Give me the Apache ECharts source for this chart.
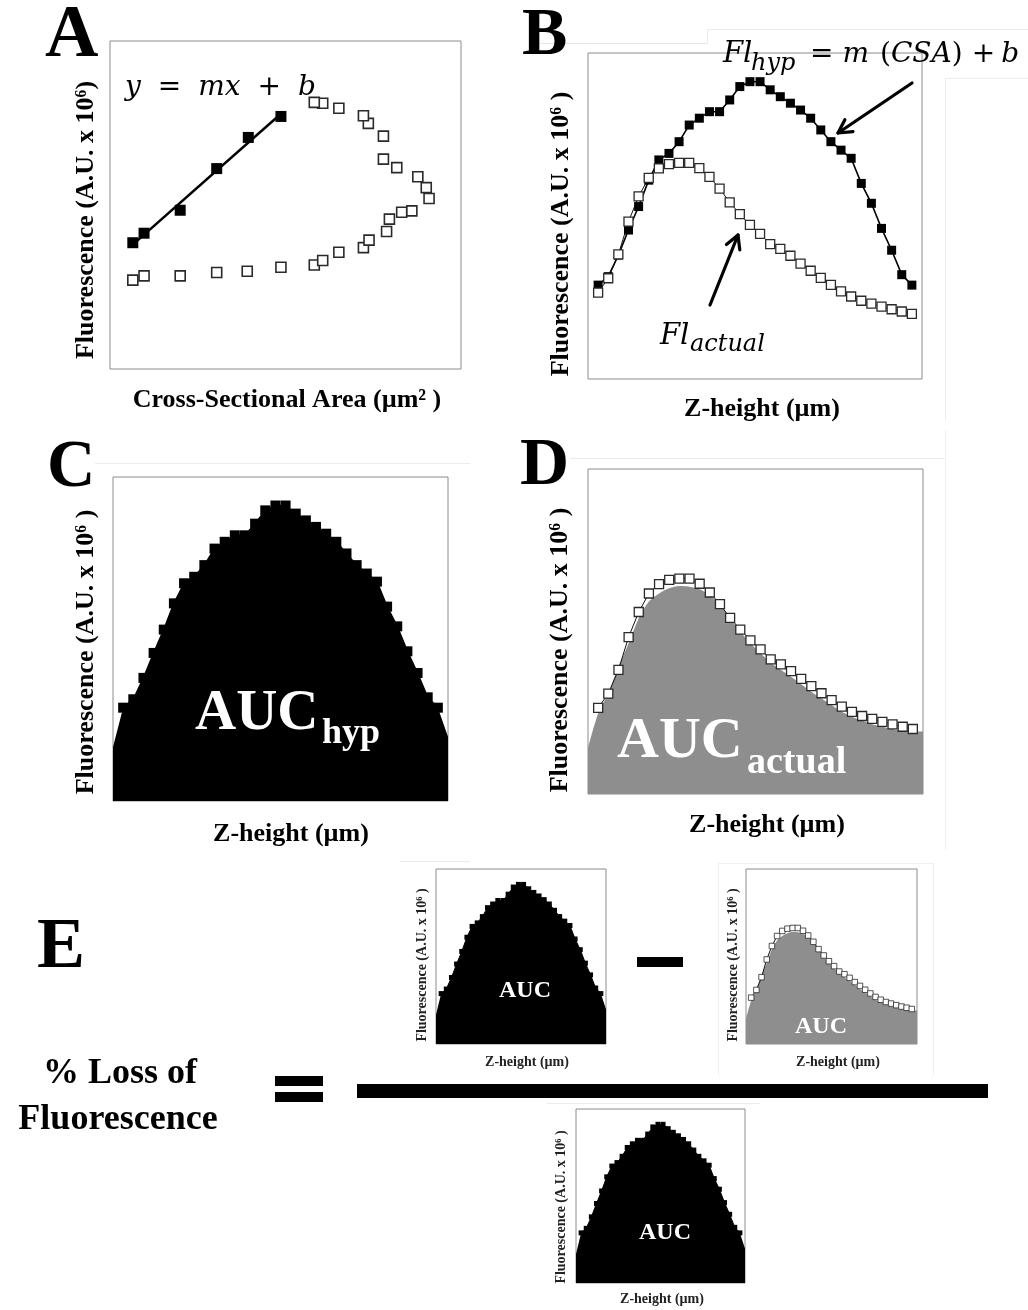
<!DOCTYPE html>
<html>
<head>
<meta charset="utf-8">
<script src="https://cdn.jsdelivr.net/npm/echarts@6/dist/echarts.min.js"></script>
<style>
  html, body { margin: 0; padding: 0; background: #fff; }
  #chart { width: 1028px; height: 1310px; }
</style>
</head>
<body>
<div id="chart"></div>
<script>
// ---- Panel A: fluorescence vs cross-sectional area ----
const aHypCSA = [6.5, 9.7, 20.0, 30.4, 39.4, 48.7];
const aHypFl  = [38.5, 41.4, 48.4, 61.1, 70.6, 77.0];
const aActCSA = [6.5, 9.7, 20.0, 30.4, 39.1, 48.7, 58.2, 60.6, 65.2, 72.2, 73.8, 78.8, 79.6,
                 83.1, 86.0, 90.9, 90.1, 87.7, 81.7, 77.9, 77.9, 73.6, 72.2, 65.2, 60.6, 58.2];
const aActFl  = [27.1, 28.4, 28.4, 29.4, 29.8, 31.0, 31.7, 33.1, 35.6, 37.0, 39.3, 41.9, 45.7,
                 47.8, 48.2, 52.0, 55.3, 58.6, 61.4, 64.0, 71.0, 74.9, 77.2, 79.5, 81.0, 81.3];

// ---- Z-stack profiles (slice number -> fluorescence) ----
const zSlice = [1, 2, 3, 4, 5, 6, 7, 8, 9, 10, 11, 12, 13, 14, 15, 16,
                17, 18, 19, 20, 21, 22, 23, 24, 25, 26, 27, 28, 29, 30, 31, 32];
const flHyp = [28.8, 31.4, 38.0, 45.7, 52.9, 61.0, 67.2, 69.2, 72.8, 77.9, 80.0, 82.0, 82.0, 85.6, 89.7, 91.2,
               91.2, 88.7, 86.6, 84.6, 82.5, 80.0, 76.4, 72.8, 70.2, 67.7, 60.0, 53.9, 46.2, 39.5, 32.0, 28.8];
const flActual = [26.5, 30.9, 38.2, 48.3, 56.0, 61.7, 64.6, 65.9, 66.3, 66.3, 64.7, 62.0, 58.4, 54.2, 50.6, 47.3,
                  44.5, 41.4, 39.9, 37.8, 35.4, 33.2, 31.0, 28.9, 26.9, 25.3, 24.0, 23.1, 22.2, 21.4, 20.7, 20.0];
// shaded area-under-curve profile for the measured signal, and the fill levels at the plot edges
const actualShade = [24.8, 31.0, 39.2, 46.4, 54.1, 59.2, 61.7, 63.3, 64.0, 63.8, 63.0, 61.2, 58.2, 54.1, 49.9, 46.4,
                     43.3, 40.4, 38.2, 36.1, 33.8, 31.5, 29.4, 27.4, 25.3, 23.8, 22.6, 21.5, 20.7, 20.0, 19.5, 19.2];
const shadeEdge = [14.2, 19.2];
const hypFillEdge = [16.7, 19.8];

// ---- helpers ----
const SERIF = '"Liberation Serif", "Times New Roman", serif';
const MATH = '"DejaVu Serif", serif';
const GRAY = '#8e8e8e';

const pts = vals => zSlice.map((z, i) => [z, vals[i]]);
const withEdges = (vals, edge) => [[0, edge[0]], ...pts(vals), [33, edge[1]]];

// least-squares line through the panel A calibration points
function fitLine(xs, ys) {
  const n = xs.length;
  const mx = xs.reduce((a, b) => a + b, 0) / n;
  const my = ys.reduce((a, b) => a + b, 0) / n;
  let sxx = 0, sxy = 0;
  xs.forEach((x, i) => { sxx += (x - mx) * (x - mx); sxy += (x - mx) * (ys[i] - my); });
  const m = sxy / sxx, b = my - m * mx;
  const x0 = Math.min(...xs), x1 = Math.max(...xs);
  return [[x0, m * x0 + b], [x1, m * x1 + b]];
}

// text placed by its baseline
function txt(x, base, text, size, o = {}) {
  const family = o.family || SERIF;
  const k = family === MATH ? 0.32 : 0.29;
  return {
    type: 'text', x: x, y: base - k * size, silent: true, z: 100,
    style: {
      text: text, fontFamily: family, fontSize: size,
      fontWeight: o.weight || 'normal', fontStyle: o.style || 'normal',
      fill: o.color || '#000', align: o.align || 'left', verticalAlign: 'middle',
      rich: o.rich
    }
  };
}
function vtxt(cx, cy, text, size, color) {
  return {
    type: 'text', x: cx, y: cy, rotation: Math.PI / 2, silent: true, z: 100,
    style: { text: text, fontFamily: SERIF, fontSize: size, fontWeight: 'bold',
             fill: color || '#000', align: 'center', verticalAlign: 'middle' }
  };
}
function bar(x, y, w, h) {
  return { type: 'rect', silent: true, z: 100, shape: { x: x, y: y, width: w, height: h }, style: { fill: '#000' } };
}
function seg(x1, y1, x2, y2, color, w) {
  return { type: 'line', silent: true, z: 1, shape: { x1: x1, y1: y1, x2: x2, y2: y2 },
           style: { stroke: color, lineWidth: w } };
}
function arrow(x1, y1, x2, y2) {
  const ang = Math.atan2(y2 - y1, x2 - x1), L = 15, s = 0.5;
  const h1 = [x2 - L * Math.cos(ang - s), y2 - L * Math.sin(ang - s)];
  const h2 = [x2 - L * Math.cos(ang + s), y2 - L * Math.sin(ang + s)];
  return [
    { type: 'line', silent: true, z: 100, shape: { x1: x1, y1: y1, x2: x2, y2: y2 }, style: { stroke: '#000', lineWidth: 3.2, lineCap: 'round' } },
    { type: 'polyline', silent: true, z: 100, shape: { points: [h1, [x2, y2], h2] }, style: { stroke: '#000', lineWidth: 3.2, fill: null, lineCap: 'round', lineJoin: 'round' } }
  ];
}

// ---- plot boxes ----
const grids = [
  { left: 110, top: 41, width: 351, height: 328 },   // A
  { left: 588, top: 53, width: 334, height: 326 },   // B
  { left: 113, top: 477, width: 335, height: 324 },  // C
  { left: 588, top: 469, width: 335, height: 325 },  // D
  { left: 436, top: 869, width: 170, height: 175 },  // E numerator, hypothetical
  { left: 746, top: 869, width: 171, height: 175 },  // E numerator, actual
  { left: 576, top: 1109, width: 169, height: 174 }  // E denominator
].map(g => Object.assign({ show: true, borderColor: '#8c8c8c', borderWidth: 1, backgroundColor: 'transparent' }, g));

const xAxis = grids.map((g, i) => ({ gridIndex: i, type: 'value', min: 0, max: i === 0 ? 100 : 33, show: false }));
const yAxis = grids.map((g, i) => ({ gridIndex: i, type: 'value', min: 0, max: 100, show: false }));

const openSq = (bw) => ({ color: '#fff', borderColor: '#2a2a2a', borderWidth: bw, opacity: 1 });

function hypCurve(gi, size, lw) {
  return { type: 'line', xAxisIndex: gi, yAxisIndex: gi, data: pts(flHyp), symbol: 'rect', symbolSize: size,
           itemStyle: { color: '#000', opacity: 1 }, lineStyle: { color: '#000', width: lw } };
}
function actCurve(gi, size, bw) {
  return { type: 'line', xAxisIndex: gi, yAxisIndex: gi, data: pts(flActual), symbol: 'rect', symbolSize: size,
           itemStyle: openSq(bw), lineStyle: { color: '#111', width: 1 } };
}
function hypFill(gi) {
  return { type: 'line', xAxisIndex: gi, yAxisIndex: gi, data: withEdges(flHyp, hypFillEdge), showSymbol: false,
           lineStyle: { width: 0, opacity: 0 }, areaStyle: { color: '#000', opacity: 1 } };
}
function actFill(gi) {
  return { type: 'line', xAxisIndex: gi, yAxisIndex: gi, data: withEdges(actualShade, shadeEdge), smooth: 0.3,
           showSymbol: false, lineStyle: { width: 0, opacity: 0 }, areaStyle: { color: GRAY, opacity: 1 } };
}

const series = [
  // A
  { type: 'scatter', xAxisIndex: 0, yAxisIndex: 0, data: aActCSA.map((x, i) => [x, aActFl[i]]),
    symbol: 'rect', symbolSize: 10, itemStyle: openSq(1.6) },
  { type: 'line', xAxisIndex: 0, yAxisIndex: 0, data: fitLine(aHypCSA, aHypFl), showSymbol: false,
    lineStyle: { color: '#000', width: 2.5 } },
  { type: 'scatter', xAxisIndex: 0, yAxisIndex: 0, data: aHypCSA.map((x, i) => [x, aHypFl[i]]),
    symbol: 'rect', symbolSize: 11, itemStyle: { color: '#000', opacity: 1 } },
  // B
  hypCurve(1, 9, 1.6),
  actCurve(1, 9, 1.3),
  // C
  hypFill(2),
  hypCurve(2, 10, 1.5),
  // D
  actFill(3),
  actCurve(3, 9, 1.3),
  // E
  hypFill(4), hypCurve(4, 5, 1),
  actFill(5), actCurve(5, 5.5, 0.8),
  hypFill(6), hypCurve(6, 5, 1)
].map(s => Object.assign({ silent: true, animation: false }, s));

// ---- annotations ----
const Y_TITLE = 'Fluorescence (A.U. x 10\u2076 )';
const elements = [
  // faint frames
  seg(540, 43.5, 707, 43.5, '#e6e6e6', 1), seg(707, 29.5, 1028, 29.5, '#ececec', 1), seg(707.5, 29, 707.5, 44, '#ececec', 1),
  seg(945, 78.5, 1028, 78.5, '#ececec', 1), seg(945.5, 78, 945.5, 420, '#ececec', 1),
  seg(95, 463.5, 470, 463.5, '#ececec', 1),
  seg(570, 458.5, 945, 458.5, '#ececec', 1), seg(945.5, 430, 945.5, 850, '#f0f0f0', 1),
  seg(400, 861.5, 470, 861.5, '#ececec', 1), seg(718.5, 863, 718.5, 1075, '#f0f0f0', 1),
  seg(933.5, 863, 933.5, 1075, '#f0f0f0', 1), seg(718, 863.5, 933, 863.5, '#f0f0f0', 1),
  seg(547, 1103.5, 760, 1103.5, '#ececec', 1),

  // panel letters
  txt(45, 58, 'A', 74, { weight: 'bold' }),
  txt(522, 56, 'B', 68, { weight: 'bold' }),
  txt(47, 488, 'C', 67, { weight: 'bold' }),
  txt(520, 486, 'D', 68, { weight: 'bold' }),
  txt(37, 969, 'E', 72, { weight: 'bold' }),

  // axis titles
  vtxt(86, 220, 'Fluorescence (A.U. x 10\u2076)', 26),
  txt(287, 408, 'Cross-Sectional Area (\u00b5m\u00b2 )', 26, { weight: 'bold', align: 'center' }),
  vtxt(561, 234, Y_TITLE, 26),
  txt(762, 417, 'Z-height (\u00b5m)', 26, { weight: 'bold', align: 'center' }),
  vtxt(86, 652, Y_TITLE, 26),
  txt(291, 842, 'Z-height (\u00b5m)', 26, { weight: 'bold', align: 'center' }),
  vtxt(560, 650, Y_TITLE, 26),
  txt(767, 833, 'Z-height (\u00b5m)', 26, { weight: 'bold', align: 'center' }),

  vtxt(422, 965, Y_TITLE, 14, '#222'),
  txt(527, 1066, 'Z-height (\u00b5m)', 14, { weight: 'bold', align: 'center', color: '#222' }),
  vtxt(733, 965, Y_TITLE, 14, '#222'),
  txt(838, 1066, 'Z-height (\u00b5m)', 14, { weight: 'bold', align: 'center', color: '#222' }),
  vtxt(561, 1207, Y_TITLE, 14, '#222'),
  txt(662, 1303, 'Z-height (\u00b5m)', 14, { weight: 'bold', align: 'center', color: '#222' }),

  // equations
  txt(125, 97, '{i|y}{o|=}{i|mx}{o|+}{i|b}', 28, { family: MATH, rich: {
    i: { fontFamily: MATH, fontStyle: 'italic', fontSize: 28 },
    o: { fontFamily: MATH, fontSize: 28, padding: [0, 17] } } }),
  txt(723, 64, 'Fl', 29, { family: MATH, style: 'italic' }),
  txt(751, 71, 'hyp', 24, { family: MATH, style: 'italic' }),
  txt(810, 64, '{o|=}{i|m}{p|(}{i|CSA}{o|)}{q|+}{i|b}', 28, { family: MATH, rich: {
    i: { fontFamily: MATH, fontStyle: 'italic', fontSize: 28 },
    o: { fontFamily: MATH, fontSize: 28, padding: [0, 9, 0, 0] },
    p: { fontFamily: MATH, fontSize: 28, padding: [0, 0, 0, 11] },
    q: { fontFamily: MATH, fontSize: 28, padding: [0, 6, 0, 0] } } }),
  txt(660, 346, 'Fl', 29, { family: MATH, style: 'italic' }),
  txt(690, 352, 'actual', 24, { family: MATH, style: 'italic' }),
  ...arrow(912, 83, 838, 133),
  ...arrow(710, 305, 738, 235),

  // AUC labels
  txt(195, 731, 'AUC', 57, { weight: 'bold', color: '#fff' }),
  txt(322, 744, 'hyp', 36, { weight: 'bold', color: '#fff' }),
  txt(617, 759, 'AUC', 58, { weight: 'bold', color: '#fff' }),
  txt(747, 774, 'actual', 38, { weight: 'bold', color: '#fff' }),
  txt(525, 998, 'AUC', 24, { weight: 'bold', color: '#fff', align: 'center' }),
  txt(821, 1034, 'AUC', 24, { weight: 'bold', color: '#fff', align: 'center' }),
  txt(665, 1240, 'AUC', 24, { weight: 'bold', color: '#fff', align: 'center' }),

  // percent-loss equation
  txt(120, 1084, '% Loss of', 36, { weight: 'bold', align: 'center' }),
  txt(118, 1130, 'Fluorescence', 36, { weight: 'bold', align: 'center' }),
  bar(275, 1076, 48, 10), bar(275, 1092, 48, 10),
  bar(637, 957, 46, 10),
  bar(357, 1084, 631, 14)
];

const chart = echarts.init(document.getElementById('chart'), null, { renderer: 'canvas' });
chart.setOption({
  animation: false,
  backgroundColor: '#fff',
  grid: grids,
  xAxis: xAxis,
  yAxis: yAxis,
  series: series,
  graphic: { elements: elements }
});
</script>
</body>
</html>
